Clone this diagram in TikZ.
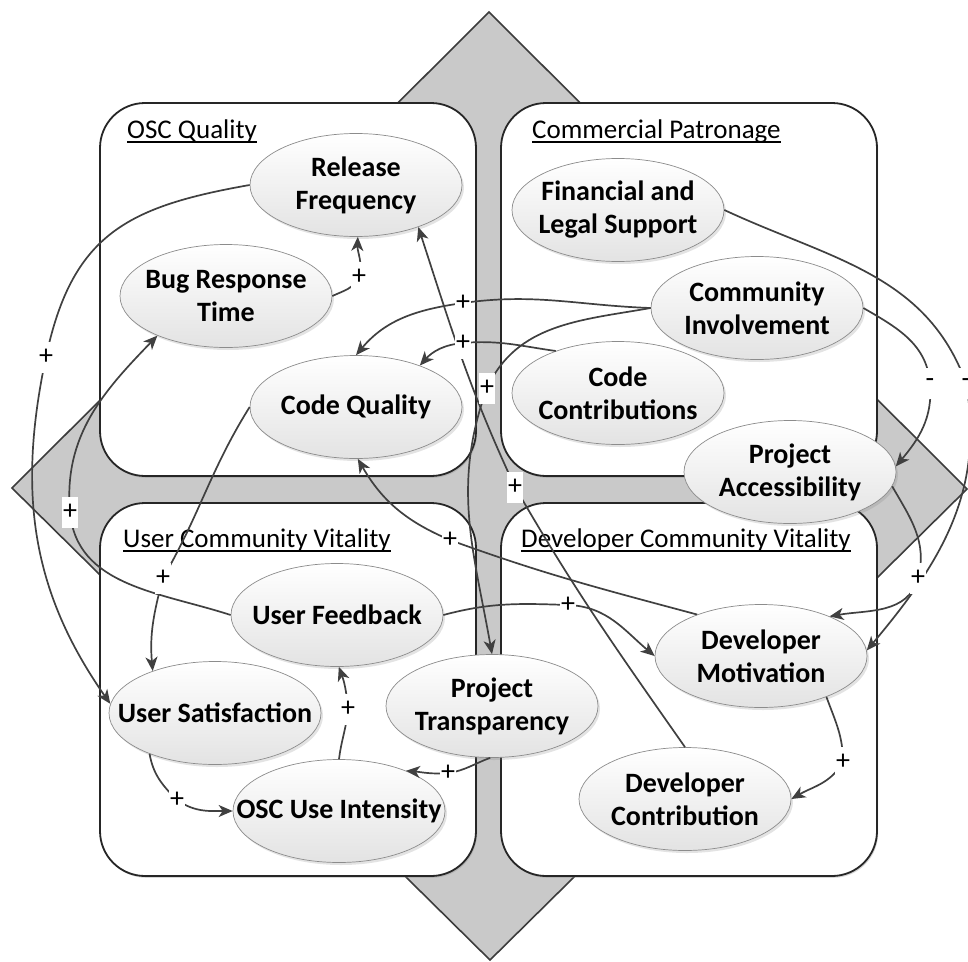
\documentclass[tikz,border=0pt]{standalone}
\usepackage{fontspec}
\setmainfont{Carlito}
\usetikzlibrary{shapes.geometric,arrows.meta,shadows,calc}

\definecolor{crossfill}{HTML}{C9C9C9}
\definecolor{crossline}{HTML}{3C3C3C}
\definecolor{panelline}{HTML}{262626}
\definecolor{ovalline}{HTML}{8C8C8C}
\definecolor{ovallow}{HTML}{E3E3E3}
\definecolor{linkgray}{HTML}{404040}

\begin{document}
\begin{tikzpicture}[x=1pt,y=1pt,
  panel/.style={rectangle, draw=panelline, line width=1.8pt, fill=white,
    rounded corners=45pt, minimum width=376pt, minimum height=373pt, inner sep=0pt,
    drop shadow={shadow xshift=1.2pt, shadow yshift=-1.8pt, opacity=0.35, fill=black!45}},
  paneltitle/.style={anchor=base west, inner sep=0pt, font=\fontsize{27}{33}\selectfont},
  titlerule/.style={line width=1.3pt},
  factor/.style={ellipse, draw=ovalline, line width=0.7pt, top color=white, bottom color=ovallow,
    minimum width=212pt, minimum height=103pt, inner sep=0pt,
    drop shadow={shadow xshift=2pt, shadow yshift=-2.5pt, opacity=0.22, fill=black!50}},
  factortext/.style={align=center, inner sep=0pt, font=\fontsize{28}{33}\selectfont\bfseries},
  link/.style={draw=linkgray, line width=1.7pt, -{Stealth[length=14pt,width=12pt,inset=4pt]}},
  sign/.style={fill=white, inner sep=0pt, minimum width=16pt, minimum height=31pt,
    font=\fontsize{28}{33}\selectfont},
]
\useasboundingbox (0,0) rectangle (968,-961);

% grey diamond behind the four panels
\path[fill=crossfill, draw=crossline, line width=1.6pt, line join=miter]
  (489,-12) -- (967,-489) -- (490,-960) -- (12,-488) -- cycle;

% the four panels
\node[panel] (quality)   at (288,-289.5) {};
\node[panel] (patronage) at (689,-289.5) {};
\node[panel] (users)     at (288,-689.5) {};
\node[panel] (devs)      at (689,-689.5) {};

% panel headings, underlined
\node[paneltitle] (tq) at (127,-138) {OSC Quality};
\node[paneltitle] (tp) at (532,-138) {Commercial Patronage};
\node[paneltitle] (tu) at (123,-547) {User Community Vitality};
\node[paneltitle] (td) at (521,-547) {Developer Community Vitality};
\foreach \t in {tq,tp,tu,td}
  \draw[titlerule] ($(\t.base west)+(0,-4)$) -- ($(\t.base east)+(0,-4)$);

% factors
\node[factor] (RF)  at (356,-185) {};
\node[factortext] (RFt) at (RF) {Release\\Frequency};
\node[factor] (BRT) at (226,-296) {};
\node[factortext] (BRTt) at (BRT) {Bug Response\\Time};
\node[factor] (CQ)  at (356,-407) {};
\node[factortext] (CQt) at (CQ) {Code Quality};
\node[factor] (FLS) at (618,-210) {};
\node[factortext] (FLSt) at (FLS) {Financial and\\Legal Support};
\node[factor] (CI)  at (757,-308) {};
\node[factortext] (CIt) at (CI) {Community\\Involvement};
\node[factor] (CC)  at (618,-393) {};
\node[factortext] (CCt) at (CC) {Code\\Contributions};
\node[factor] (PA)  at (790,-472) {};
\node[factortext] (PAt) at (PA) {Project\\Accessibility};
\node[factor] (UF)  at (337,-615) {};
\node[factortext] (UFt) at (UF) {User Feedback};
\node[factor] (US)  at (215,-713) {};
\node[factortext] (USt) at (US) {User Satisfaction};
\node[factor] (OUI) at (339,-811) {};
\node[factortext] (OUIt) at (OUI) {OSC Use Intensity};
\node[factor] (PT)  at (492,-706) {};
\node[factortext] (PTt) at (PT) {Project\\Transparency};
\node[factor] (DM)  at (761,-656) {};
\node[factortext] (DMt) at (DM) {Developer\\Motivation};
\node[factor] (DC)  at (685,-799) {};
\node[factortext] (DCt) at (DC) {Developer\\Contribution};

% where the polarity signs sit on the links
\coordinate (p1)  at (46,-357);
\coordinate (p2)  at (359,-277);
\coordinate (p3)  at (70,-512);
\coordinate (p4)  at (163,-578);
\coordinate (p5)  at (463,-303);
\coordinate (p6)  at (463,-343);
\coordinate (p7)  at (487,-388);
\coordinate (p8)  at (515,-487);
\coordinate (p9)  at (966,-383);
\coordinate (p10) at (930,-383);
\coordinate (p11) at (918,-578);
\coordinate (p12) at (843,-762);
\coordinate (p13) at (450,-540);
\coordinate (p14) at (568,-605);
\coordinate (p15) at (448,-773);
\coordinate (p16) at (177,-800);
\coordinate (p17) at (348,-709);

% causal links
\draw[link] (RF.west) to[out=190,in=78,looseness=1.2] (p1) to[out=258,in=125] (US.175);
\draw[link] (BRT.east) to[out=25,in=245] (p2) to[out=75,in=268] (RF.-88);
\draw[link] (UF.west) to[out=162,in=-85] (p3) to[out=95,in=226] (BRT.210);
\draw[link] (CQ.west) to[out=238,in=60] (p4) to[out=255,in=95] (US.146);
\draw[link] (CI.west) to[out=178,in=8] (p5) to[out=188,in=50] (CQ.north);
\draw[link] (CC.146) to[out=172,in=5] (p6) to[out=185,in=48] (CQ.33);
\draw[link] (CI.west) to[out=190,in=65] (p7) to[out=250,in=100] (PT.north);
\draw[link] (DC.north) to[out=125,in=-60] (p8) to[out=115,in=-72] (RF.-34);
\draw[link] (FLS.east) to[out=-25,in=110] (p9) to[out=-80,in=50] (DM.3);
\draw[link] (CI.east) to[out=-30,in=95] (p10) to[out=-85,in=50] (PA.3);
\draw[link] (PA.-8) to[out=-60,in=75] (p11) to[out=255,in=10] (DM.30);
\draw[link] (DM.-32) to[out=-70,in=90] (p12) to[out=240,in=30] (DC.east);
\draw[link] (DM.147) to[out=165,in=-20] (p13) to[out=157,in=-60] (CQ.-88);
\draw[link] (UF.east) to[out=15,in=178] (p14) to[out=-2,in=140] (DM.west);
\draw[link] (PT.-92) to[out=200,in=8] (p15) to[out=185,in=-5] (OUI.31);
\draw[link] (US.212) to[out=-80,in=135] (p16) to[out=-35,in=180] (OUI.west);
\draw[link] (OUI.north) to[out=83,in=-95] (p17) to[out=95,in=-70] (UF.-88);

% polarity signs
\node[sign] (s1)  at (p1)  {+};
\node[sign] (s2)  at (p2)  {+};
\node[sign] (s3)  at (p3)  {+};
\node[sign] (s4)  at (p4)  {+};
\node[sign] (s5)  at (p5)  {+};
\node[sign] (s6)  at (p6)  {+};
\node[sign] (s7)  at (p7)  {+};
\node[sign] (s8)  at (p8)  {+};
\node[sign] (s9)  at (p9)  {-};
\node[sign] (s10) at (p10) {-};
\node[sign] (s11) at (p11) {+};
\node[sign] (s12) at (p12) {+};
\node[sign] (s13) at (p13) {+};
\node[sign] (s14) at (p14) {+};
\node[sign] (s15) at (p15) {+};
\node[sign] (s16) at (p16) {+};
\node[sign] (s17) at (p17) {+};
\end{tikzpicture}
\end{document}
